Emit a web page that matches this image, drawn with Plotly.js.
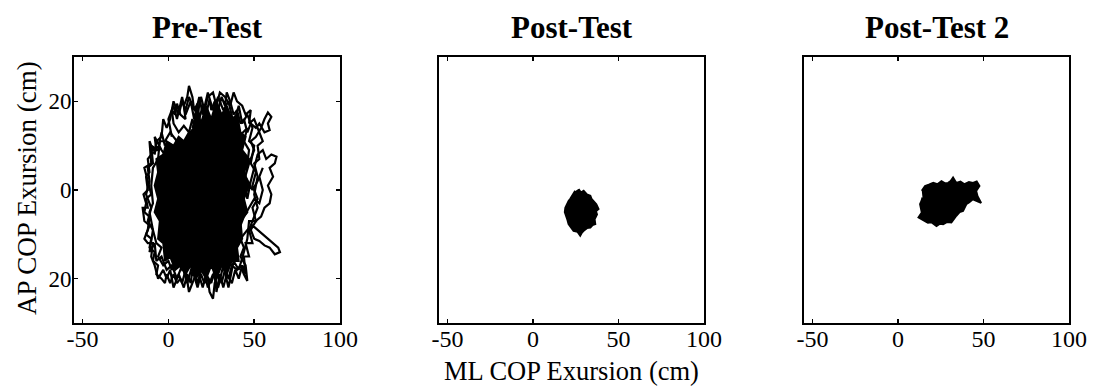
<!DOCTYPE html>
<html>
<head>
<meta charset="utf-8">
<script src="https://cdn.plot.ly/plotly-3.0.1.min.js"></script>
<style>html,body{margin:0;padding:0;background:#fff;}#chart{width:1096px;height:387px;}</style>
</head>
<body>
<div id="chart"></div>
<script>
// ---- Data ----
const panelTitles = ["Pre-Test", "Post-Test", "Post-Test 2"];
const xAxisTitle = "ML COP Exursion (cm)";
const yAxisTitle = "AP COP Exursion (cm)";
const xTickVals = [-50, 0, 50, 100];
const xTickText = ["-50", "0", "50", "100"];
const yTickVals = [-20, 0, 20];
const yTickText = ["20", "0", "20"];

// Pre-Test: dense (solid-looking) core region of the COP trace
const preCoreX = [14, 17, 19, 22, 25, 28, 31, 34, 37, 40, 42, 45, 43, 47, 44, 47, 44, 46, 42, 43, 40, 41, 37, 34, 31, 28, 25, 22, 19, 16, 13, 10, 7, 4, 1, -2, -3, -6, -5, -8, -6, -8, -6, -7, -3, -1, 3, 6, 9, 12];
const preCoreY = [14, 18, 15, 19, 16, 20, 17, 19, 16, 17, 13, 12, 9, 7, 4, 1, -2, -5, -7, -11, -13, -16, -16, -19, -17, -20, -17, -20, -18, -20, -17, -19, -17, -18, -15, -16, -12, -11, -7, -5, -2, 1, 4, 7, 8, 11, 10, 12, 11, 13];

// Pre-Test: COP path through the outer fringe (first pass)
const prePathX = [20, 10, 2, -4, -8, -7, -10, -12, -11, -13, -12, -14.5, -13, -14, -11, -12, -13, -10, -11, -8, -9, -6, -7, -4, -2, -1, 1, 3, 5, 7, 9, 11, 13, 14, 17, 19, 21, 23, 24, 26, 27, 29, 31, 33, 35, 37, 40, 42, 44, 46, 45, 42, 44, 42, 46, 49, 52, 55, 58, 61, 64, 65, 62, 59, 56, 53, 50, 48, 51, 54, 56, 59, 60, 58, 61, 59, 62, 63, 60, 57, 55, 52, 50, 48, 46, 44, 47, 50, 48, 51, 54, 56, 58, 60, 58, 59, 56, 53, 51, 48, 46, 44, 42, 40, 38, 36, 34, 33, 31, 29, 27, 25, 24, 22, 20, 18, 17, 15, 14, 12, 11, 9, 10, 7, 5, 4, 2, 3, 6, 9, 12, 14, 16, 15, 10, 5, 1, -2, -5, -6, -9, -10, -9, -11, -9, -7, -4, -6, -3, 0, 2, 5, 8, 12, 16, 20, 23, 27, 31, 35, 39, 41, 44, 47, 50, 53, 55, 53, 55, 52, 49, 45, 47, 44, 46, 41, 38, 35, 31, 28, 24, 20, 18, 22, 15];
const prePathY = [-5, 2, 6, 9, 12, 9, 8, 7, 4, 3, 0, -1, -3, -5, -6, -9, -10, -11, -13, -14, -16, -17, -19, -20, -21, -19, -21, -19, -21, -20, -22, -19, -21, -18, -22, -19, -21, -20, -23, -24.5, -21, -19, -21, -18, -20, -17, -18, -17, -19, -20.5, -17, -15, -13, -11, -9, -8, -9, -10, -11, -12, -13, -14, -14.5, -13, -12.5, -11.5, -11, -9, -7, -6, -4, -3, -1, 1, 3, 5, 6, 7.5, 8, 7, 9, 8, 5, 2, -2, 2, 6, 9, 11, 12, 14, 16, 17.5, 16.5, 15, 13.5, 13, 15, 14, 15, 13, 16, 15, 18, 17, 20, 22, 19, 21, 18, 20, 18, 20.5, 17, 19, 16, 19.5, 18, 21, 23.5, 21, 19, 16, 17, 19.5, 17, 18, 15, 13, 14.5, 13, 16, 13, 10, 9, 11, 13, 11, 11, 7, 5, 1, -3, -5, -9, -12, -13, -15, -17, -16, -18, -16, -18, -16, -17, -16, -18, -16, -17, -15, -13, -9, -6, -4, -2, -3, 0, 3, 5, 2, 0, 3, 9, 11, 14, 12, 14, 17, 15, 17, 14, 16, 12, 5, -3];

// Pre-Test: COP path through the outer fringe (second pass)
const prePath2X = [-5, -9, -11, -10, -14, -12, -10, -13, -12, -15, -14, -11, -14, -12, -9, -10, -8, -6, -3, -1, 1, 3, 6, 8, 10, 12, 15, 17, 20, 22, 25, 27, 28, 30, 32, 34, 37, 39, 41, 43, 45, 44, 47, 45, 49, 47, 50, 52, 50, 52, 50, 53, 52, 55, 53, 50, 47, 48, 45, 43, 40, 38, 36, 33, 30, 28, 26, 23, 21, 19, 17, 14, 12, 10, 8, 6, 3, 1, -1, -3, -4, -7, -8];
const prePath2Y = [10, 9, 11, 6, 5, 2, -1, -2, -4, -4, -7, -8, -11, -12, -12, -15, -17, -20, -18, -20, -18, -22, -19, -21, -18, -23, -20, -18, -22, -19, -21, -18, -23, -19, -22, -19, -21, -18, -20, -17, -19, -15, -15, -12, -12, -9, -6, -4, -1, 3, 6, 7, 10, 11, 13, 16, 15, 18, 17, 19, 20, 22, 19, 21, 22, 19, 22, 21, 18, 21, 17, 19, 21, 18, 20, 17, 20, 16, 14, 16, 12, 11, 8];

// Pre-Test: COP path through the outer fringe (third pass)
const prePath3X = [2, 0, 3, 5, 8, 10, 13, 15, 18, 20, 23, 26, 29, 32, 35, 38, 41, 43, 46, 49, 47, 50, 48, 51, 49, 52, 49, 51, 47, 46, 44, 41, 38, 35, 32, 29, 26, 23, 20, 17, 14, 11, 8, 5, 2, -1, -4, -7, -8, -11, -9, -12, -10, -13, -11, -12, -9, -10, -6, -4, -2];
const prePath3Y = [12, 16, 19, 16, 21, 17, 20, 16, 21, 17, 22, 18, 21, 18, 20, 15, 19, 15, 17, 14, 11, 10, 6, 4, 1, -2, -4, -7, -7, -11, -14, -18, -16, -22, -17, -22, -19, -22, -17, -21, -17, -21, -17, -20, -17, -18, -15, -16, -12, -14, -9, -7, -4, -1, 2, 5, 6, 10, 9, 13, 10];

// Post-Test: outline of the COP cloud
const postX = [26.6, 28.0, 29.6, 31.5, 33.5, 34.2, 35.4, 37.0, 38.3, 36.8, 37.4, 36.0, 36.4, 34.8, 33.5, 31.5, 29.6, 28.6, 27.6, 26.0, 23.7, 22.5, 20.8, 20.2, 19.5, 18.6, 18.9, 19.8, 20.8, 21.8, 22.8, 23.5, 24.7];
const postY = [0.2, -0.6, -0.2, -1.0, -1.3, -2.0, -2.5, -3.2, -4.3, -4.8, -5.5, -6.6, -7.7, -7.9, -8.5, -8.6, -9.2, -9.6, -10.3, -9.4, -9.2, -8.5, -7.7, -6.8, -5.8, -5.0, -4.0, -3.2, -2.5, -2.0, -1.3, -0.9, -0.2];

// Post-Test 2: outline of the COP cloud
const post2X = [13.9, 15.8, 18.0, 20.6, 23.0, 25.4, 27.5, 29.3, 30.8, 32.2, 34.1, 36.5, 38.9, 41.5, 43.8, 46.0, 47.6, 45.7, 46.5, 48.6, 45.5, 43.8, 41.5, 39.9, 38.0, 36.0, 34.1, 32.5, 31.2, 28.8, 26.4, 24.5, 22.5, 19.7, 17.5, 15.8, 12.0, 13.9, 12.9, 13.8, 14.3];
const post2Y = [-0.2, 0.9, 1.2, 1.6, 1.3, 2.0, 1.5, 1.6, 2.0, 2.8, 1.6, 1.9, 1.3, 1.8, 1.6, 1.9, 0.9, -0.2, -1.4, -2.9, -2.4, -2.1, -2.8, -3.2, -4.7, -5.0, -5.8, -6.5, -7.3, -7.2, -7.7, -7.6, -8.1, -7.3, -7.4, -7.0, -6.2, -5.1, -3.2, -2.4, -1.7];

// ---- Figure ----
const serif = "Liberation Serif, Times New Roman, serif";
const traces = [
  {x: preCoreX, y: preCoreY, xaxis: "x", yaxis: "y", mode: "lines", fill: "toself", fillcolor: "#000", line: {color: "#000", width: 2}, hoverinfo: "skip"},
  {x: prePathX, y: prePathY, xaxis: "x", yaxis: "y", mode: "lines", line: {color: "#000", width: 2.2}, hoverinfo: "skip"},
  {x: prePath2X, y: prePath2Y, xaxis: "x", yaxis: "y", mode: "lines", line: {color: "#000", width: 2.2}, hoverinfo: "skip"},
  {x: prePath3X, y: prePath3Y, xaxis: "x", yaxis: "y", mode: "lines", line: {color: "#000", width: 2.2}, hoverinfo: "skip"},
  {x: postX, y: postY, xaxis: "x2", yaxis: "y2", mode: "lines", fill: "toself", fillcolor: "#000", line: {color: "#000", width: 2}, hoverinfo: "skip"},
  {x: post2X, y: post2Y, xaxis: "x3", yaxis: "y3", mode: "lines", fill: "toself", fillcolor: "#000", line: {color: "#000", width: 2}, hoverinfo: "skip"}
];

const W = 1096, H = 387;
const xDomains = [[74 / W, 340 / W], [439 / W, 704 / W], [804 / W, 1069 / W]];
const yDomain = [1 - 323 / H, 1 - 57 / H];

function xAx(i) {
  return {
    domain: xDomains[i], range: [-55, 100], anchor: i === 0 ? "y" : "y" + (i + 1),
    tickmode: "array", tickvals: xTickVals, ticktext: xTickText,
    ticks: "inside", ticklen: 4, tickwidth: 1.5, tickcolor: "#000",
    showline: true, linecolor: "#000", linewidth: 2, mirror: "ticks",
    showgrid: false, zeroline: false, fixedrange: true, ticklabelstandoff: -7,
    tickfont: {family: serif, size: 24, color: "#000"}
  };
}
function yAx(i) {
  const a = {
    domain: yDomain, range: [-30, 30], anchor: i === 0 ? "x" : "x" + (i + 1),
    showline: true, linecolor: "#000", linewidth: 2,
    showgrid: false, zeroline: false, fixedrange: true,
    tickfont: {family: serif, size: 23, color: "#000"}
  };
  if (i === 0) {
    Object.assign(a, {tickmode: "array", tickvals: yTickVals, ticktext: yTickText,
      ticks: "inside", ticklen: 4, tickwidth: 1.5, tickcolor: "#000", mirror: "ticks",
      ticklabelstandoff: -4});
  } else {
    Object.assign(a, {ticks: "", showticklabels: false, mirror: true});
  }
  return a;
}

const annotations = panelTitles.map((t, i) => ({
  text: "<b>" + t + "</b>", xref: "paper", yref: "paper",
  x: (xDomains[i][0] + xDomains[i][1]) / 2, y: 1 - 28 / H,
  xanchor: "center", yanchor: "middle", showarrow: false,
  font: {family: serif, size: 31, color: "#000"}
}));
annotations.push({
  text: xAxisTitle, xref: "paper", yref: "paper",
  x: (xDomains[1][0] + xDomains[1][1]) / 2, y: 1 - 371 / H,
  xanchor: "center", yanchor: "middle", showarrow: false,
  font: {family: serif, size: 26.5, color: "#000"}
});
annotations.push({
  text: yAxisTitle, xref: "paper", yref: "paper",
  x: 27 / W, y: 1 - 188 / H, textangle: -90,
  xanchor: "center", yanchor: "middle", showarrow: false,
  font: {family: serif, size: 27, color: "#000"}
});

const layout = {
  width: W, height: H, margin: {l: 0, r: 0, t: 0, b: 0},
  paper_bgcolor: "#fff", plot_bgcolor: "#fff", showlegend: false,
  font: {family: serif, color: "#000"},
  xaxis: xAx(0), xaxis2: xAx(1), xaxis3: xAx(2),
  yaxis: yAx(0), yaxis2: yAx(1), yaxis3: yAx(2),
  annotations: annotations
};

Plotly.newPlot("chart", traces, layout, {displayModeBar: false, staticPlot: true});
</script>
</body>
</html>
